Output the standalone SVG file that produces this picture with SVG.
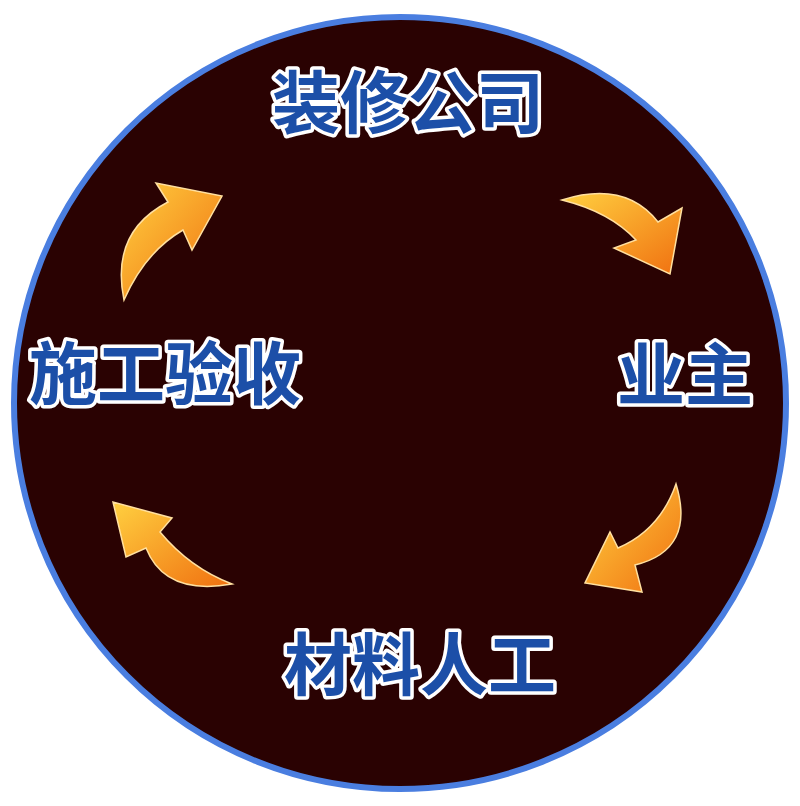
<svg xmlns="http://www.w3.org/2000/svg" width="800" height="806" viewBox="0 0 800 806">
<defs>
<linearGradient id="og" x1="0" y1="0" x2="1" y2="1"><stop offset="0" stop-color="#ffd040"/><stop offset="1" stop-color="#f07010"/></linearGradient>
<style>
.t{font-family:"Noto Sans CJK SC",sans-serif;font-weight:bold;font-size:68px;fill:#1c4fa8;stroke:#ffffff;stroke-width:7px;paint-order:stroke;stroke-linejoin:round;text-anchor:middle}
.a{fill:url(#og);stroke:#ffe0a0;stroke-width:1.5}
</style>
</defs>
<rect width="800" height="806" fill="#ffffff"/>
<circle cx="400" cy="403" r="386" fill="#2a0202" stroke="#4a7ee0" stroke-width="6"/>
<g id="connectors">
<path class="a" d="M562,200 Q625,180 658,222 L682,208 L670,274 L614,248 L636,240 Q610,212 562,200 Z"/>
<path class="a" d="M676,484 Q696,550 635,565 L642,592 L585,583 L610,532 L618,548 Q660,530 676,484 Z"/>
<path class="a" d="M232,584 Q165,596 146,548 L126,557 L113,502 L172,518 L160,532 Q190,568 232,584 Z"/>
<path class="a" d="M124,300 Q110,232 168,202 L156,183 L222,196 L192,250 L183,230 Q145,252 124,300 Z"/>
</g>
<g id="n1"><text class="t" x="408" y="128">装修公司</text></g>
<g id="n2"><text class="t" x="685" y="400">业主</text></g>
<g id="n3"><text class="t" x="420" y="690">材料人工</text></g>
<g id="n4"><text class="t" x="165" y="399">施工验收</text></g>
</svg>
